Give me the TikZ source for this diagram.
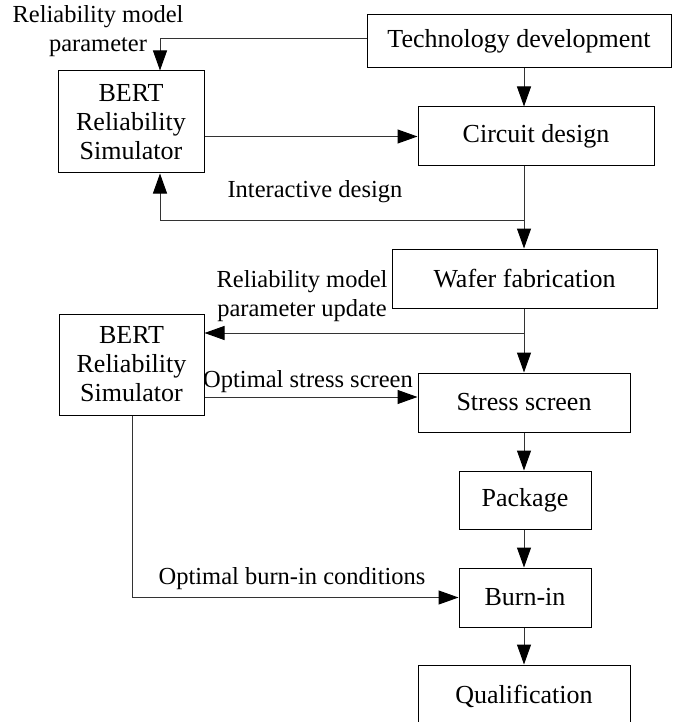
\documentclass[tikz,border=0pt]{standalone}
\usepackage{fontspec}
\setmainfont{Liberation Serif}
\usetikzlibrary{arrows.meta}
\begin{document}
\begin{tikzpicture}[x=1pt,y=-1pt,
  box/.style={draw=black,line width=1pt,inner sep=0pt,align=center,
    font=\fontsize{26}{29}\selectfont},
  lbl/.style={inner sep=0pt,align=center,font=\fontsize{24.5}{29}\selectfont},
  conn/.style={draw=black!80,line width=1pt},
  arr/.style={conn,-{Triangle[length=20pt,width=14pt,color=black]}}]
\useasboundingbox (0,0) rectangle (672,722);
\node[box,minimum width=304,minimum height=53] (tech) at (519,41.5) {Technology development};
\node[box,minimum width=236,minimum height=59] (circ) at (536,136.5) {Circuit design};
\node[box,minimum width=146,minimum height=102] (bert1) at (131,122) {BERT\\Reliability\\Simulator};
\node[box,minimum width=265,minimum height=59] (wafer) at (524.5,278.5) {Wafer fabrication};
\node[box,minimum width=145,minimum height=101] (bert2) at (131.5,364.5) {BERT\\Reliability\\Simulator};
\node[box,minimum width=212,minimum height=59] (stress) at (524,402.5) {Stress screen};
\node[box,minimum width=132,minimum height=58] (pack) at (525,500) {Package};
\node[box,minimum width=132,minimum height=59] (burn) at (525,597.5) {Burn-in};
\node[box,minimum width=212,minimum height=62] (qual) at (524,696) {Qualification};

\coordinate (sp) at (524,0);
\coordinate (b1x) at (160,0);
\coordinate (j1) at (524,220);
\coordinate (j2) at (524,333);
\coordinate (b2y) at (0,397);
\coordinate (b3x) at (132,0);

\node[lbl] (l1) at (98,31) {Reliability model\\parameter};
\node[lbl] (l2) at (315,192) {Interactive design};
\node[lbl] (l3) at (302,296.5) {Reliability model\\parameter update};
\node[lbl] (l4) at (308,382) {Optimal stress screen};
\node[lbl] (l5) at (292,579) {Optimal burn-in conditions};

\draw[arr] ([yshift=3pt]tech.west) -| (bert1.north -| b1x);
\draw[arr] (bert1.east |- circ.west) -- (circ.west);
\draw[arr] (tech.south -| sp) -- (circ.north -| sp);
\draw[arr] (circ.south -| sp) -- (wafer.north -| sp);
\draw[arr] (j1) -| (bert1.south -| b1x);
\draw[arr] (wafer.south -| sp) -- (stress.north -| sp);
\draw[arr] (j2) -- (bert2.east |- j2);
\draw[arr] (bert2.east |- b2y) -- (stress.west |- b2y);
\draw[arr] (stress.south -| sp) -- (pack.north -| sp);
\draw[arr] (pack.south -| sp) -- (burn.north -| sp);
\draw[arr] (burn.south -| sp) -- (qual.north -| sp);
\draw[arr] (bert2.south -| b3x) |- (burn.west);
\end{tikzpicture}
\end{document}
